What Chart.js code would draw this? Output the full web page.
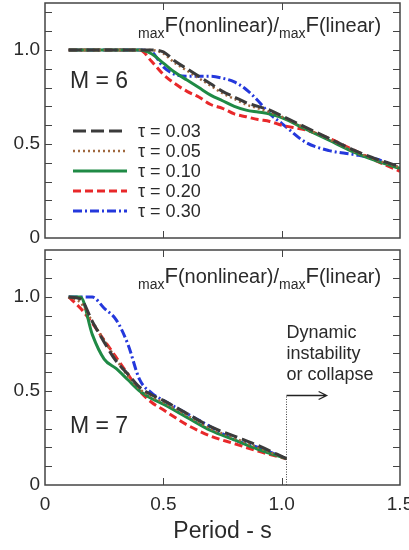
<!DOCTYPE html>
<html>
<head>
<meta charset="utf-8">
<script src="https://cdn.jsdelivr.net/npm/chart.js@4.4.1/dist/chart.umd.min.js"></script>
<style>
  body { margin: 0; background: #fff; }
  #wrap { position: relative; width: 409px; height: 550px; }
  #wrap canvas { position: absolute; left: 0; }
</style>
</head>
<body>
<div id="wrap">
  <canvas id="m6" width="409" height="250" style="top:0"></canvas>
  <canvas id="m7" width="409" height="310" style="top:240px"></canvas>
</div>
<script>
// values
var tauLabels = ["τ = 0.03", "τ = 0.05", "τ = 0.10", "τ = 0.20", "τ = 0.30"];

// M = 6 panel
var periodsM6 = [0.1, 0.4, 0.45, 0.5, 0.55, 0.6, 0.65, 0.7, 0.75, 0.8, 0.85, 0.9, 0.95, 1.0, 1.1, 1.2, 1.3, 1.4, 1.5];
var m6Tau003 = [1.0, 1.0, 1.0, 0.99, 0.94, 0.90, 0.86, 0.82, 0.78, 0.75, 0.72, 0.70, 0.68, 0.65, 0.59, 0.53, 0.47, 0.42, 0.38];
var m6Tau005 = [1.0, 1.0, 1.0, 0.98, 0.93, 0.89, 0.85, 0.81, 0.77, 0.74, 0.71, 0.69, 0.67, 0.645, 0.585, 0.525, 0.465, 0.415, 0.375];
var m6Tau010 = [1.0, 1.0, 0.98, 0.93, 0.88, 0.84, 0.80, 0.76, 0.73, 0.70, 0.68, 0.67, 0.66, 0.64, 0.58, 0.52, 0.46, 0.41, 0.37];
var m6Tau020 = [1.0, 1.0, 0.94, 0.87, 0.82, 0.78, 0.75, 0.71, 0.69, 0.66, 0.645, 0.63, 0.62, 0.60, 0.575, 0.53, 0.47, 0.41, 0.355];
var m6Tau030 = [1.0, 1.0, 0.99, 0.91, 0.87, 0.86, 0.86, 0.86, 0.85, 0.83, 0.79, 0.73, 0.66, 0.61, 0.51, 0.465, 0.445, 0.42, 0.37];

// M = 7 panel
var periodsM7 = [0.1, 0.15, 0.2, 0.25, 0.3, 0.35, 0.4, 0.45, 0.5, 0.6, 0.7, 0.8, 0.9, 1.02];
var m7Tau003 = [1.0, 0.99, 0.87, 0.76, 0.66, 0.59, 0.52, 0.48, 0.45, 0.38, 0.31, 0.26, 0.21, 0.14];
var m7Tau005 = [1.0, 0.97, 0.87, 0.77, 0.67, 0.58, 0.51, 0.47, 0.44, 0.37, 0.30, 0.25, 0.20, 0.14];
var m7Tau010 = [1.0, 1.0, 0.80, 0.67, 0.62, 0.56, 0.50, 0.46, 0.43, 0.36, 0.29, 0.24, 0.19, 0.14];
var m7Tau020 = [1.0, 0.94, 0.86, 0.77, 0.68, 0.59, 0.50, 0.44, 0.40, 0.32, 0.26, 0.22, 0.18, 0.14];
var m7Tau030 = [1.0, 1.0, 1.0, 0.94, 0.88, 0.75, 0.56, 0.49, 0.45, 0.38, 0.31, 0.24, 0.20, 0.14];

var xTickValues = [0, 0.5, 1.0, 1.5];
var yTickValues = [0, 0.5, 1.0];
var yMinorTicks = [0.1, 0.2, 0.3, 0.4, 0.5, 0.6, 0.7, 0.8, 0.9, 1.0, 1.1, 1.2];
var xMinorTicks = [0.5, 1.0];

// collapse marker (M = 7)
var collapsePeriod = 1.02;
var arrowEndPeriod = 1.19;
var arrowLevel = 0.48;

var FONT = "'Liberation Sans', Arial, Helvetica, sans-serif";
var TEXT = "#2a2a2a";

var styles = [
  { color: "#3b3b3b", dash: [13, 5], width: 3 },
  { color: "#a0683e", dash: [2, 3], width: 2.5 },
  { color: "#1f8a45", dash: [], width: 3 },
  { color: "#e8282a", dash: [8, 4], width: 3 },
  { color: "#2438dc", dash: [9, 3, 2, 3], width: 3 }
];

function makeDatasets(xs, series) {
  return series.map(function (ys, i) {
    return {
      label: tauLabels[i],
      data: xs.map(function (x, j) { return { x: x, y: ys[j] }; }),
      borderColor: styles[i].color,
      borderDash: styles[i].dash,
      borderWidth: styles[i].width,
      pointRadius: 0,
      fill: false,
      cubicInterpolationMode: "monotone"
    };
  });
}

// frame + inward ticks on all sides
var framePlugin = {
  id: "frame",
  afterDatasetsDraw: function (chart) {
    var a = chart.chartArea, ctx = chart.ctx;
    var xs = chart.scales.x, ys = chart.scales.y;
    ctx.save();
    ctx.strokeStyle = "#444";
    ctx.lineWidth = 1.5;
    ctx.strokeRect(a.left, a.top, a.right - a.left, a.bottom - a.top);
    ctx.lineWidth = 1;
    ctx.beginPath();
    yMinorTicks.forEach(function (v) {
      var py = Math.round(ys.getPixelForValue(v)) + 0.5;
      ctx.moveTo(a.left, py); ctx.lineTo(a.left + 7, py);
      ctx.moveTo(a.right, py); ctx.lineTo(a.right - 7, py);
    });
    xMinorTicks.forEach(function (v) {
      var px = Math.round(xs.getPixelForValue(v)) + 0.5;
      ctx.moveTo(px, a.bottom); ctx.lineTo(px, a.bottom - 7);
      ctx.moveTo(px, a.top); ctx.lineTo(px, a.top + 7);
    });
    ctx.stroke();
    ctx.restore();
  }
};

// maxF(nonlinear)/maxF(linear) and the M label
var panelTextPlugin = {
  id: "panelText",
  afterDraw: function (chart, args, opts) {
    var ctx = chart.ctx;
    ctx.save();
    ctx.fillStyle = TEXT;
    ctx.textBaseline = "alphabetic";
    var parts = [["max", 14, 6], ["F", 22, 0], ["(nonlinear)/", 20, 0], ["max", 14, 6], ["F", 22, 0], ["(linear)", 20, 0]];
    var x = opts.titleX;
    parts.forEach(function (p) {
      ctx.font = p[1] + "px " + FONT;
      ctx.fillText(p[0], x, opts.titleY + p[2]);
      x += ctx.measureText(p[0]).width;
    });
    ctx.font = "23px " + FONT;
    ctx.fillText(opts.mLabel, opts.mX, opts.mY);
    ctx.restore();
  }
};

// legend inside the M = 6 panel
var insideLegendPlugin = {
  id: "insideLegend",
  afterDraw: function (chart, args, opts) {
    if (!opts.show) return;
    var ctx = chart.ctx;
    ctx.save();
    ctx.font = "18px " + FONT;
    ctx.textBaseline = "middle";
    chart.data.datasets.forEach(function (ds, i) {
      var y = opts.y + i * opts.step;
      ctx.strokeStyle = ds.borderColor;
      ctx.lineWidth = ds.borderWidth;
      ctx.setLineDash(ds.borderDash);
      ctx.beginPath();
      ctx.moveTo(opts.x, y);
      ctx.lineTo(opts.x + opts.lineLen, y);
      ctx.stroke();
      ctx.fillStyle = TEXT;
      ctx.fillText(ds.label, opts.x + opts.lineLen + 11, y + 1);
    });
    ctx.restore();
  }
};

// dynamic instability marker in the M = 7 panel
var collapsePlugin = {
  id: "collapse",
  afterDraw: function (chart, args, opts) {
    if (!opts.show) return;
    var ctx = chart.ctx, xs = chart.scales.x, ys = chart.scales.y;
    var px = Math.round(xs.getPixelForValue(collapsePeriod)) + 0.5;
    var py = Math.round(ys.getPixelForValue(arrowLevel)) + 0.5;
    var pe = xs.getPixelForValue(arrowEndPeriod);
    ctx.save();
    ctx.strokeStyle = "#444";
    ctx.lineWidth = 1;
    ctx.setLineDash([1, 1.5]);
    ctx.beginPath();
    ctx.moveTo(px, ys.getPixelForValue(0));
    ctx.lineTo(px, py);
    ctx.stroke();
    ctx.setLineDash([]);
    ctx.strokeStyle = "#222";
    ctx.lineWidth = 1.3;
    ctx.beginPath();
    ctx.moveTo(px, py); ctx.lineTo(pe, py);
    ctx.moveTo(pe - 8, py - 4); ctx.lineTo(pe, py); ctx.lineTo(pe - 8, py + 4);
    ctx.stroke();
    ctx.fillStyle = TEXT;
    ctx.font = "18px " + FONT;
    ["Dynamic", "instability", "or collapse"].forEach(function (t, i) {
      ctx.fillText(t, px, opts.textY + i * 21);
    });
    ctx.restore();
  }
};

function makeOptions(panel) {
  var bottom = panel.showX;
  return {
    responsive: false,
    animation: false,
    layout: { padding: { left: 0, right: 9, top: panel.padTop, bottom: panel.padBottom } },
    plugins: {
      legend: { display: false },
      tooltip: { enabled: false },
      panelText: { titleX: 138, titleY: panel.titleY, mLabel: panel.mLabel, mX: 70, mY: panel.mY },
      insideLegend: { show: !bottom, x: 73, y: 131, step: 20, lineLen: 54 },
      collapse: { show: bottom, textY: panel.textY }
    },
    scales: {
      x: {
        type: "linear",
        display: bottom,
        min: 0, max: 1.5,
        grid: { display: false, drawTicks: false },
        border: { display: false },
        afterBuildTicks: function (s) { s.ticks = xTickValues.map(function (v) { return { value: v }; }); },
        afterFit: function (s) {
          s.height = bottom ? 65 : 0;
          s.paddingLeft = 0; s.paddingRight = 0;
        },
        ticks: {
          padding: 8,
          color: TEXT,
          font: { size: 19, family: FONT },
          maxRotation: 0,
          callback: function (v) { return v === 0 ? "0" : v.toFixed(1); }
        },
        title: {
          display: true,
          text: "Period - s",
          color: TEXT,
          font: { size: 23, family: FONT },
          padding: { top: 0, bottom: 5 }
        }
      },
      y: {
        min: 0, max: 1.25,
        grid: { display: false, drawTicks: false },
        border: { display: false },
        afterBuildTicks: function (s) { s.ticks = yTickValues.map(function (v) { return { value: v }; }); },
        afterFit: function (s) { s.width = 45; s.paddingTop = 0; s.paddingBottom = 0; },
        ticks: {
          padding: 5,
          color: TEXT,
          font: { size: 19, family: FONT },
          callback: function (v) { return v === 0 ? "0" : v.toFixed(1); }
        }
      }
    }
  };
}

var plugins = [framePlugin, panelTextPlugin, insideLegendPlugin, collapsePlugin];

new Chart(document.getElementById("m6").getContext("2d"), {
  type: "line",
  data: { datasets: makeDatasets(periodsM6, [m6Tau003, m6Tau005, m6Tau010, m6Tau020, m6Tau030]) },
  options: makeOptions({ showX: false, padTop: 3, padBottom: 12, titleY: 32, mLabel: "M = 6", mY: 88 }),
  plugins: plugins
});

new Chart(document.getElementById("m7").getContext("2d"), {
  type: "line",
  data: { datasets: makeDatasets(periodsM7, [m7Tau003, m7Tau005, m7Tau010, m7Tau020, m7Tau030]) },
  options: makeOptions({ showX: true, padTop: 10, padBottom: 0, titleY: 43, mLabel: "M = 7", mY: 193, textY: 98 }),
  plugins: plugins
});
</script>
</body>
</html>
